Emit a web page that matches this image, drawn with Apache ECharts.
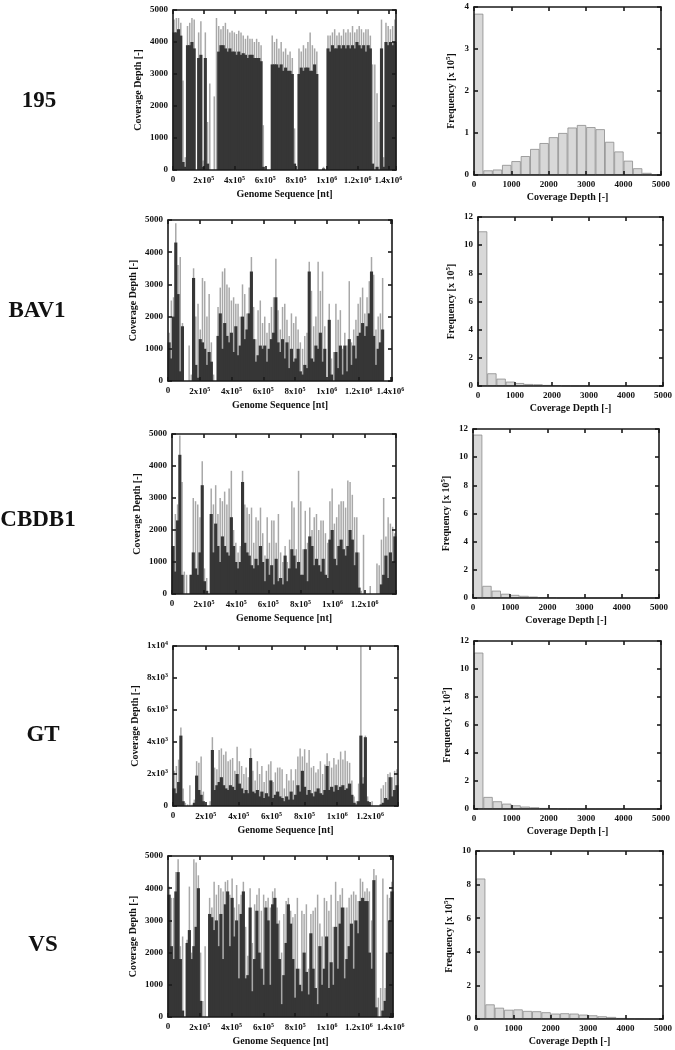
<!DOCTYPE html>
<html><head><meta charset="utf-8">
<script src="https://cdn.jsdelivr.net/npm/echarts/dist/echarts.min.js"></script>
<style>html,body{margin:0;padding:0;background:#fff}#c{width:675px;height:1050px}</style>
</head><body><div id="c"></div>
<script>
// ---------------- DATA ----------------
const strains = ['195', 'BAV1', 'CBDB1', 'GT', 'VS'];
const genomeAxisMax = [1450000, 1410000, 1395000, 1370000, 1415000];
const genomeBinSize = [14500, 14000, 13950, 13700, 14150];
const depthAxisMax = [5000, 5000, 5000, 10000, 5000];
const depthAxisStep = [1000, 1000, 1000, 2000, 1000];

// coverage depth per genome bin: dense body level and spike peaks
const body195 = [4300,4300,4400,4200,250,100,3900,3900,4000,3800, 0,3500,3600,100,3500,200,0,0,0,0,
  3700,3900,3900,3800,3700,3800,3700,3700,3600,3700, 3600,3650,3600,3500,3600,3600,3500,3500,3500,3400,
  100,0,0,0,3300,3300,3300,3200,3300,3100, 3200,3100,3100,3000,200,0,3000,3200,3100,3200,
  3200,3100,3100,3300,3000,0,0,50,0,3800, 3700,3900,3800,3800,3900,3800,3900,3800,3900,3800,
  3900,3800,4000,3900,3800,3900,3700,3900,3800,200, 0,100,0,3800,100,4000,3900,4000,3900,4000];
const peak195 = [4700,4750,4750,4600,2800,400,4500,4600,4750,4700, 0,4300,4650,300,4300,1500,2700,0,2300,4750,
  4500,4400,4500,4600,4400,4300,4350,4300,4250,4350, 4300,4200,4100,4200,4100,4100,4000,4100,4000,3900,
  1400,0,0,0,4200,4000,4100,3800,4000,3700, 3800,3600,3700,3500,1300,0,3800,3700,3900,3800,
  4000,4300,3900,3800,3700,0,0,100,0,4200, 4200,4300,4400,4200,4300,4200,4400,4300,4400,4300,
  4500,4300,4400,4500,4400,4300,4400,4400,4200,3300, 3300,2400,1500,4700,400,4600,4500,4400,4500,4700];

const bodyBAV1 = [1200,700,2000,4300,2700,300,1700,0,0,0, 0,3200,500,100,1300,1200,1000,500,900,600,
  0,0,1400,2100,1000,1800,1400,1200,1500,900, 1700,800,1100,2000,1300,1600,2100,3400,1300,600,
  800,1100,1000,1100,600,1000,1300,1500,2600,1200, 900,1300,700,1200,400,1000,600,700,1000,300,
  200,500,400,3400,700,600,1100,1000,1500,600, 1000,0,1900,200,0,900,400,1100,200,1100,
  300,1300,500,1100,700,1400,1500,1800,1400,1700, 2100,3400,1400,500,1000,1200,1600];
const peakBAV1 = [1500,2500,2600,4900,3600,3850,1800,0,0,1100, 200,3500,2000,2400,1600,3200,3100,2000,2700,1200,
  200,0,2300,2900,3400,3500,3000,2900,2500,2600, 2400,2400,2000,3000,2700,2100,2900,3850,2300,1300,
  2200,2500,1800,2000,1500,1800,2300,2600,3800,2200, 1600,2300,2400,1900,1400,2100,1800,2000,1600,1200,
  1000,1400,1500,3700,2800,1700,2000,3700,2800,3400, 1700,0,2400,700,900,2400,1900,2200,1000,1500,
  1100,3100,1200,1600,1900,2400,2600,2900,2100,2600, 3100,3850,3300,1600,2000,2100,3200];

const bodyCBDB1 = [1500,700,2300,4350,600,0,0,0,600,1300, 800,600,1300,3400,400,100,0,2500,1300,2200,
  1500,1000,1800,1500,1300,1200,2400,1500,1000,800, 1000,3500,1600,1300,1200,900,800,1100,900,1500,
  1000,400,1100,600,900,300,1100,400,500,300, 1200,400,800,1400,1200,800,1000,600,600,1400,
  400,1800,1500,900,1100,900,700,1100,600,500, 1700,2000,1100,900,1500,1700,1400,1200,1500,2000,
  1700,900,1300,200,0,0,0,0,0,0, 0,0,0,300,600,1200,500,1300,1000,1800];
const peakCBDB1 = [1500,2500,2800,4950,3500,700,600,0,600,3000, 2900,2800,2400,4150,800,500,0,3300,2800,3400,
  2500,3000,2900,3200,2800,3300,3850,2000,1600,1300, 1500,3850,2800,2700,2500,2700,1600,2400,2300,2700,
  1900,1200,2400,1600,2300,2300,1600,2500,1300,1000, 1500,1000,1700,2900,2700,1400,3850,2900,1400,2600,
  1600,2700,2000,2400,2500,2000,2300,2300,1900,1600, 2900,3300,2200,2400,2800,2900,2900,2700,3550,3500,
  3100,2400,2400,1300,100,1850,0,0,250,0, 0,950,900,1700,3000,1800,2400,2200,2100,1900];

const bodyGT = [1100,800,1500,4400,300,0,0,0,0,200, 1900,1000,700,300,0,0,0,3500,1000,1300,
  1500,1800,1300,1100,1000,1300,1200,1000,2000,1400, 1100,800,1000,800,3000,900,800,1000,600,900,
  500,800,600,1600,500,700,900,600,500,300, 600,400,900,400,700,1300,900,2200,1200,700,
  1000,800,600,900,1100,800,700,1000,2500,1000, 1200,900,1300,1000,1200,1300,1000,1100,1400,700,
  200,100,300,4400,1400,4300,300,0,0,0, 0,0,100,200,500,400,1800,600,1000,1300];
const peakGT = [2200,2500,2900,4900,1100,200,100,1300,100,400, 2800,2700,3100,900,100,0,300,4300,2400,2300,
  3500,3600,3200,3400,2800,2900,3000,2200,3700,2800, 2500,2000,2400,1800,3600,2200,1600,2800,2000,2500,
  1500,2200,2600,2800,1500,2100,2400,2400,2300,1100, 2000,1600,2300,1600,2300,3100,3600,3100,3550,2700,
  3500,2400,2500,2100,2300,2800,2000,2600,3300,2800, 2400,3000,2600,2900,3400,2900,3450,2800,2700,1600,
  600,300,1400,10000,1800,4400,600,100,300,0, 0,0,1100,1300,1500,2000,2100,1800,2200,2300];

const bodyVS = [3800,2200,1800,3900,4500,1800,200,0,2300,2700, 1800,2200,2800,4000,500,0,0,0,3200,3100,
  2700,3000,2200,3200,1800,3500,3900,2200,3700,2500, 3000,1200,3200,3900,1200,1300,3400,800,1800,3300,
  2000,1500,1000,3400,3000,1000,3500,3700,2900,1800, 400,1300,2300,3500,2900,1800,600,1500,1000,800,
  2000,1400,700,2600,1500,900,400,2200,1000,1500, 2500,900,1700,1000,2800,1500,2900,3400,1200,1800,
  2200,2900,1500,3000,2600,3600,3700,3600,3600,2000, 1500,4250,300,0,0,200,500,2000,3000,3900];
const peakVS = [4050,3700,3700,4500,4900,2200,2500,0,2400,4050, 2000,4900,4800,4400,2000,500,2200,0,3700,3400,
  4200,3800,4100,4000,3900,4200,4250,3800,4300,3400, 4100,3500,3800,4200,2800,1900,4000,2300,3500,3800,
  4000,3300,3800,3600,3700,3400,3900,4000,3400,3000, 2000,3200,3600,3700,3300,3100,3200,3700,1500,3300,
  3200,3500,1500,3200,3300,3400,3800,2900,2500,3700, 3600,3300,3800,2800,4200,3600,3800,4000,3400,3400,
  3700,3800,3900,3800,3600,4300,4200,3900,4000,3900, 3000,4600,4400,600,900,4300,900,3800,3700,4200];

// histogram of coverage depth, bins of 250, frequency in units of 10^5
const histBinWidth = 250;
const hist195 = [3.84,0.11,0.13,0.24,0.33,0.45,0.62,0.76,0.90,1.00,1.13,1.19,1.14,1.09,0.79,0.56,0.34,0.16,0.05,0];
const histBAV1 = [10.98,0.90,0.52,0.31,0.21,0.14,0.12,0.07,0.05,0.02,0.01,0.01,0,0,0,0,0,0,0,0];
const histCBDB1 = [11.6,0.86,0.52,0.30,0.22,0.15,0.10,0.05,0.03,0.01,0.01,0,0,0,0,0,0,0,0,0];
const histGT = [11.17,0.86,0.55,0.38,0.26,0.17,0.12,0.07,0.05,0.02,0.01,0,0,0,0,0,0,0,0,0];
const histVS = [8.36,0.87,0.67,0.55,0.57,0.48,0.46,0.40,0.32,0.34,0.32,0.26,0.22,0.16,0.12,0.06,0.02,0.01,0,0];
const histAxisMax = [4, 12, 12, 12, 10];
const histAxisStep = [1, 2, 2, 2, 2];

const bodies = [body195, bodyBAV1, bodyCBDB1, bodyGT, bodyVS];
const peaks = [peak195, peakBAV1, peakCBDB1, peakGT, peakVS];
const hists = [hist195, histBAV1, histCBDB1, histGT, histVS];

// ---------------- LAYOUT / STYLE ----------------
const FONT = "'Liberation Serif','Times New Roman',serif";
const leftGrids = [
  {left:173, top:10, width:223, height:160},
  {left:168, top:220, width:224, height:161},
  {left:172, top:434, width:224, height:160},
  {left:173, top:646, width:225, height:160},
  {left:168, top:856, width:225, height:161}
];
const rightGrids = [
  {left:474, top:7, width:187, height:168},
  {left:478, top:217, width:186, height:169},
  {left:473, top:429, width:186, height:169},
  {left:474, top:641, width:187, height:168},
  {left:476, top:851, width:187, height:168}
];
const labelPos = [[39,101],[37,311],[38,520],[43,735],[43,945]];

const lineStyle = {color:'#1a1a1a', width:1.6};
const rich = {
  n: {fontFamily:FONT, fontWeight:'bold', fontSize:9, color:'#111'},
  s: {fontFamily:FONT, fontWeight:'bold', fontSize:6, color:'#111', verticalAlign:'top', padding:[0,0,6,0]}
};
function plain(v) { return String(v); }
function genomeLabel(v) {
  if (v === 0) return '{n|0}';
  if (Math.abs(v % 200000) > 1) return '';
  if (v < 1e6) return '{n|' + (v / 1e5) + 'x10}{s|5}';
  return '{n|' + (+(v / 1e6).toFixed(1)) + 'x10}{s|6}';
}
function depthLabelSci(v) {
  if (v === 0) return '{n|0}';
  if (v >= 10000) return '{n|' + (v / 10000) + 'x10}{s|4}';
  return '{n|' + (v / 1000) + 'x10}{s|3}';
}
const plainLabel = {formatter:plain, fontFamily:FONT, fontWeight:'bold', fontSize:9, color:'#111', margin:5};

const grids = [], xAxes = [], yAxes = [], series = [], graphics = [];
function mirrorX(gi, min, max, interval) {
  return {type:'value', gridIndex:gi, position:'top', min, max, interval, z:5,
    axisLine:{show:true, onZero:false, lineStyle}, axisTick:{show:true, inside:true, length:4, lineStyle},
    axisLabel:{show:false}, splitLine:{show:false}};
}
function mirrorY(gi, min, max, interval) {
  return {type:'value', gridIndex:gi, position:'right', min, max, interval, z:5,
    axisLine:{show:true, onZero:false, lineStyle}, axisTick:{show:true, inside:true, length:4, lineStyle},
    axisLabel:{show:false}, splitLine:{show:false}};
}
const nameStyle = {fontFamily:FONT, fontWeight:'bold', fontSize:10, color:'#111'};

for (let r = 0; r < 5; r++) {
  const gL = 2 * r, gR = 2 * r + 1;
  grids.push(Object.assign({}, leftGrids[r]));
  grids.push(Object.assign({}, rightGrids[r]));
  // left: coverage along genome
  xAxes.push({type:'value', gridIndex:gL, min:0, max:genomeAxisMax[r], interval:200000, z:5,
    name:'Genome Sequence [nt]', nameLocation:'middle', nameGap:19, nameTextStyle:nameStyle,
    axisLine:{show:true, onZero:false, lineStyle}, axisTick:{show:true, inside:true, length:4, lineStyle},
    axisLabel:{formatter:genomeLabel, rich, margin:5, showMaxLabel:true, hideOverlap:false}, splitLine:{show:false}});
  xAxes.push(mirrorX(gL, 0, genomeAxisMax[r], 200000));
  yAxes.push({type:'value', gridIndex:gL, min:0, max:depthAxisMax[r], interval:depthAxisStep[r], z:5,
    name:'Coverage Depth [-]', nameLocation:'middle', nameGap: r === 3 ? 33 : 30, nameTextStyle:nameStyle,
    axisLine:{show:true, onZero:false, lineStyle}, axisTick:{show:true, inside:true, length:4, lineStyle},
    axisLabel: r === 3 ? {formatter:depthLabelSci, rich, margin:5} : plainLabel,
    splitLine:{show:false}});
  yAxes.push(mirrorY(gL, 0, depthAxisMax[r], depthAxisStep[r]));
  // right: histogram
  xAxes.push({type:'value', gridIndex:gR, min:0, max:5000, interval:1000, z:5,
    name:'Coverage Depth [-]', nameLocation:'middle', nameGap:17, nameTextStyle:nameStyle,
    axisLine:{show:true, onZero:false, lineStyle}, axisTick:{show:true, inside:true, length:4, lineStyle},
    axisLabel:plainLabel, splitLine:{show:false}});
  xAxes.push(mirrorX(gR, 0, 5000, 1000));
  yAxes.push({type:'value', gridIndex:gR, min:0, max:histAxisMax[r], interval:histAxisStep[r], z:5,
    name:'Frequency [x 10{s|5}]', nameLocation:'middle', nameGap: histAxisMax[r] >= 10 ? 20 : 16,
    nameTextStyle:Object.assign({}, nameStyle, {rich:{s:{fontFamily:FONT, fontWeight:'bold', fontSize:7, color:'#111', verticalAlign:'top', padding:[0,0,6,0]}}}),
    axisLine:{show:true, onZero:false, lineStyle}, axisTick:{show:true, inside:true, length:4, lineStyle},
    axisLabel:plainLabel, splitLine:{show:false}});
  yAxes.push(mirrorY(gR, 0, histAxisMax[r], histAxisStep[r]));

  const xiL = 4 * r, xiR = 4 * r + 2;
  const bs = genomeBinSize[r];
  const bw = leftGrids[r].width * bs / genomeAxisMax[r] + 0.9;
  // thin light spikes (placed on the mirror top axis so they centre independently)
  series.push({type:'bar', xAxisIndex:xiL + 1, yAxisIndex:xiL, barWidth:1.5,
    itemStyle:{color:'#a8a8a8'}, silent:true,
    data: peaks[r].map((v, i) => [(i + 0.5) * bs, v])});
  series.push({type:'bar', xAxisIndex:xiL, yAxisIndex:xiL, barWidth:bw,
    itemStyle:{color:'#363636'}, silent:true,
    data: bodies[r].map((v, i) => [(i + 0.5) * bs, v])});
  series.push({type:'bar', xAxisIndex:xiR, yAxisIndex:xiR,
    barWidth: rightGrids[r].width * histBinWidth / 5000,
    itemStyle:{color:'#d8d8d8', borderColor:'#8c8c8c', borderWidth:0.8}, silent:true,
    data: hists[r].map((v, i) => [(i + 0.5) * histBinWidth, v])});

  graphics.push({type:'text', x:labelPos[r][0], y:labelPos[r][1],
    style:{text:strains[r], font:'bold 23px ' + FONT, fill:'#111', textAlign:'center', textVerticalAlign:'middle'}});
}

const chart = echarts.init(document.getElementById('c'), null, {renderer:'canvas'});
chart.setOption({
  animation:false,
  backgroundColor:'#fff',
  grid:grids, xAxis:xAxes, yAxis:yAxes, series,
  graphic: graphics
});
</script>
</body></html>
